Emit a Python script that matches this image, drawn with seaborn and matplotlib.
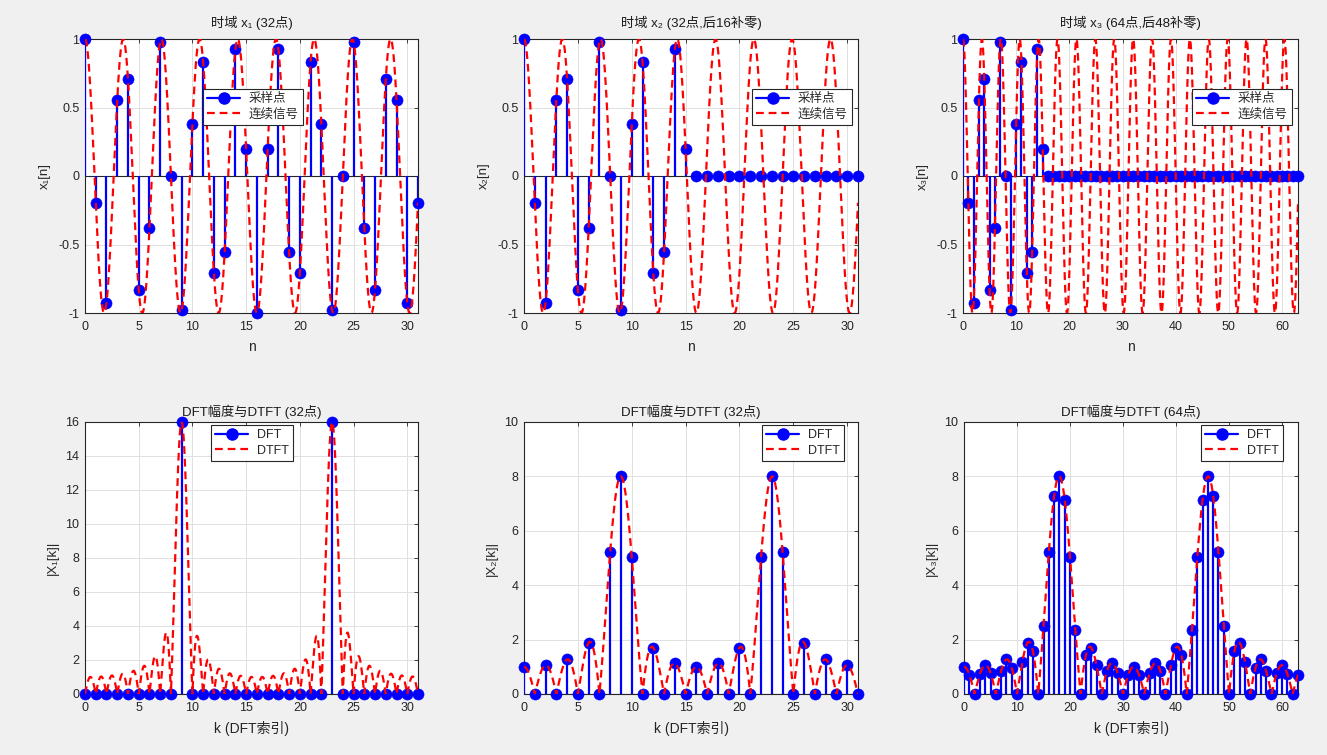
import numpy as np
import seaborn as sns
import matplotlib.pyplot as plt
from matplotlib.lines import Line2D
from matplotlib.legend_handler import HandlerLine2D

# samples, n = 0..31
x1_samples = [1.000, -0.195, -0.924, 0.556, 0.707, -0.831, -0.383, 0.981,
              0.000, -0.981, 0.383, 0.831, -0.707, -0.556, 0.924, 0.195,
              -1.000, 0.195, 0.924, -0.556, -0.707, 0.831, 0.383, -0.981,
              0.000, 0.981, -0.383, -0.831, 0.707, 0.556, -0.924, -0.195]
kept_points = 16          # x2 / x3 keep the first 16 samples, rest zero
lengths = [32, 32, 64]    # N of each case
f0 = 9 / 32               # frequency of the red continuous curve (cycles/sample)

titles_top = ["时域 x₁ (32点)", "时域 x₂ (32点,后16补零)", "时域 x₃ (64点,后48补零)"]
titles_bot = ["DFT幅度与DTFT (32点)", "DFT幅度与DTFT (32点)", "DFT幅度与DTFT (64点)"]
ylabels_top = ["x₁[n]", "x₂[n]", "x₃[n]"]
ylabels_bot = ["|X₁[k]|", "|X₂[k]|", "|X₃[k]|"]
legend_top = ["采样点", "连续信号"]
legend_bot = ["DFT", "DTFT"]
ymax_bot = [16, 10, 10]

BLUE = (0, 0, 1)
RED = (1, 0, 0)
W, H = 1327, 755

sns.set_theme(style="whitegrid")
plt.rcParams['font.family'] = ['Liberation Sans', 'Noto Sans CJK SC', 'DejaVu Sans']
plt.rcParams['axes.unicode_minus'] = False


class StemHandler(HandlerLine2D):
    # matlab style: line with the marker at its right end
    def get_xdata(self, legend, xdescent, ydescent, width, height, fontsize):
        xdata = np.array([-xdescent, -xdescent + width])
        return xdata, np.array([-xdescent + width])


def px_axes(fig, l, t, r, b):
    return fig.add_axes([l / W, 1 - b / H, (r - l) / W, (b - t) / H])


def style_axes(ax):
    ax.set_facecolor('white')
    for s in ax.spines.values():
        s.set_visible(True)
        s.set_color('#262626')
        s.set_linewidth(0.8)
    ax.grid(True, color='#e0e0e0', lw=0.7)
    ax.tick_params(direction='in', length=3, width=0.6, colors='#262626',
                   labelsize=9, top=True, right=True)
    ax.tick_params(axis='x', pad=6)
    ax.tick_params(axis='y', pad=4)
    ax.set_axisbelow(True)


def draw_stem(ax, n, vals):
    ax.axhline(0, color='#262626', lw=0.8, zorder=2)
    ax.vlines(n, 0, vals, colors=[BLUE], lw=1.6, zorder=3)
    sns.scatterplot(x=n, y=vals, ax=ax, color=BLUE, s=64, edgecolor=BLUE,
                    linewidth=0.4, zorder=4, clip_on=False, legend=False)


def draw_dashed(ax, x, y):
    sns.lineplot(x=x, y=y, ax=ax, color=RED, lw=1.6, estimator=None, sort=False, zorder=5)
    ax.lines[-1].set_linestyle((0, (3.5, 2.2)))


def add_legend(ax, fig, labels, xy):
    stem_h = Line2D([], [], color=BLUE, lw=1.6, marker='o', markersize=8,
                    markerfacecolor=BLUE, markeredgecolor=BLUE)
    dash_h = Line2D([], [], color=RED, lw=1.6, linestyle=(0, (3.5, 2.2)))
    leg = ax.legend([stem_h, dash_h], labels, loc='upper left',
                    bbox_to_anchor=(xy[0] / W, 1 - xy[1] / H), bbox_transform=fig.transFigure,
                    handler_map={stem_h: StemHandler()}, fancybox=False, framealpha=1,
                    edgecolor='#262626', fontsize=9, handlelength=2.6, borderpad=0.35,
                    labelspacing=0.25, handletextpad=0.7, borderaxespad=0)
    leg.get_frame().set_linewidth(0.8)
    for t in leg.get_texts():
        t.set_color('#262626')


def dtft_mag(x, N, step=1 / 64):
    k = np.arange(0, N + step / 2, step)
    n = np.arange(len(x))
    X = np.exp(-2j * np.pi * np.outer(k, n) / N) @ np.asarray(x)
    return k, np.abs(X)


# the three sequences
first = x1_samples[:kept_points]
signals = [np.array(x1_samples),
           np.array(first + [0.0] * (lengths[1] - kept_points)),
           np.array(first + [0.0] * (lengths[2] - kept_points))]

fig = plt.figure(figsize=(W / 100, H / 100), dpi=100, facecolor='#f0f0f0')

top_boxes = [(85, 39, 418, 313), (524, 39, 858, 313), (963, 39, 1298, 313)]
bot_boxes = [(85, 422, 418, 694), (524, 422, 858, 694), (964, 422, 1298, 694)]
top_leg = [(203, 89), (752, 89), (1192, 89)]
bot_leg = [(211, 425), (762, 425), (1201, 425)]

for i in range(3):
    x = signals[i]
    N = lengths[i]
    n = np.arange(N)

    # ========= time domain =========
    ax = px_axes(fig, *top_boxes[i])
    style_axes(ax)
    t = np.linspace(0, N - 1, 2000)
    draw_stem(ax, n, x)
    draw_dashed(ax, t, np.cos(2 * np.pi * f0 * t))
    ax.set_xlim(0, N - 1)
    ax.set_ylim(-1, 1)
    ax.set_yticks([-1, -0.5, 0, 0.5, 1])
    ax.set_yticklabels(['-1', '-0.5', '0', '0.5', '1'])
    ax.set_xticks(np.arange(0, N, 5 if N == 32 else 10))
    ax.set_title(titles_top[i], fontsize=9.5, color='#1a1a1a', pad=9)
    ax.set_xlabel("n", fontsize=10, color='#262626', labelpad=5)
    ax.set_ylabel(ylabels_top[i], fontsize=9.5, color='#262626', labelpad=5)
    add_legend(ax, fig, legend_top, top_leg[i])

    # ========= DFT + DTFT =========
    ax = px_axes(fig, *bot_boxes[i])
    style_axes(ax)
    dft = np.abs(np.fft.fft(x))
    kk, mag = dtft_mag(x, N)
    draw_stem(ax, n, dft)
    draw_dashed(ax, kk, mag)
    ax.set_xlim(0, N - 1)
    ax.set_ylim(0, ymax_bot[i])
    ax.set_yticks(np.arange(0, ymax_bot[i] + 1, 2))
    ax.set_xticks(np.arange(0, N, 5 if N == 32 else 10))
    ax.set_title(titles_bot[i], fontsize=9.5, color='#1a1a1a', pad=4)
    ax.set_xlabel("k (DFT索引)", fontsize=10, color='#262626', labelpad=5)
    ax.set_ylabel(ylabels_bot[i], fontsize=9.5, color='#262626', labelpad=5)
    add_legend(ax, fig, legend_bot, bot_leg[i])

plt.savefig("out.png", dpi=100, facecolor=fig.get_facecolor())
plt.close()
